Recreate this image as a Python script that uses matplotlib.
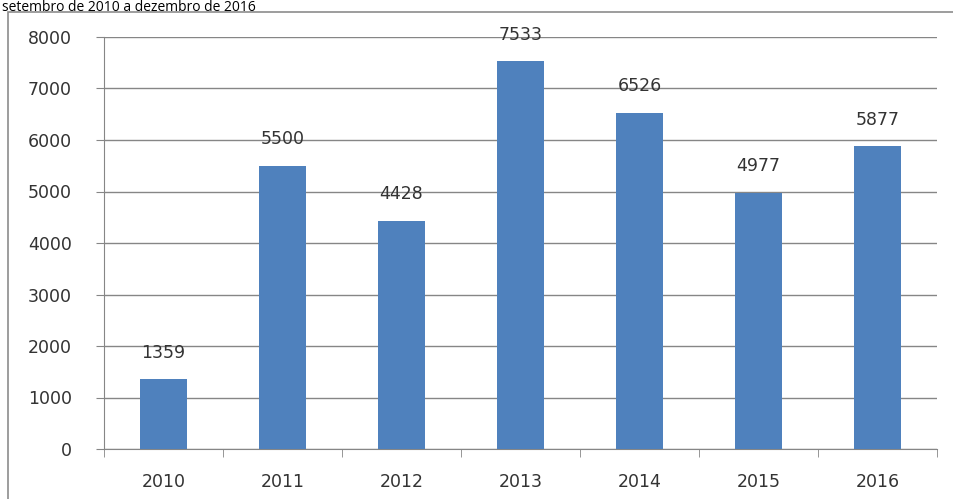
import matplotlib.pyplot as plt
from matplotlib.patches import Rectangle

anos = ['2010', '2011', '2012', '2013', '2014', '2015', '2016']
valores = [1359, 5500, 4428, 7533, 6526, 4977, 5877]
y_ticks = [0, 1000, 2000, 3000, 4000, 5000, 6000, 7000, 8000]

W, H = 954, 499
fig = plt.figure(figsize=(W / 100, H / 100), dpi=100)

# chart frame (top and left edges, running off the image)
frame = Rectangle((8 / W, -0.1), 1.2, (H - 12) / H + 0.1, transform=fig.transFigure,
                  fill=False, edgecolor='#8c8c8c', linewidth=1.2)
fig.patches.append(frame)

fig.text(2 / W, 1.0, 'setembro de 2010 a dezembro de 2016', fontsize=10,
         family='Open Sans', color='black', ha='left', va='top')

txt = dict(fontsize=12.5, color='#333333')

ax = fig.add_axes([104 / W, (H - 449) / H, (937 - 104) / W, (449 - 37) / H])
x = range(len(anos))
ax.bar(x, valores, width=0.4, color='#4f81bd', zorder=3)
for i, v in enumerate(valores):
    ax.text(i, v + 340, str(v), ha='center', va='bottom', **txt)

ax.set_xlim(-0.5, len(anos) - 0.5)
ax.set_ylim(0, 8000)
ax.set_yticks(y_ticks)
ax.set_yticklabels([str(t) for t in y_ticks], **txt)
ax.yaxis.grid(True, color='#868686', linewidth=1.0, zorder=0)

ax.set_xticks(x)
ax.set_xticklabels(anos, **txt)
ax.tick_params(axis='x', length=0, pad=17)
ax.set_xticks([i - 0.5 for i in range(len(anos) + 1)], minor=True)
ax.tick_params(axis='x', which='minor', length=6, color='#868686', direction='out')
ax.tick_params(axis='y', length=6, color='#868686', direction='out', pad=17)

for side in ['top', 'right']:
    ax.spines[side].set_visible(False)
for side in ['left', 'bottom']:
    ax.spines[side].set_color('#868686')

fig.savefig('out.png', dpi=100)
